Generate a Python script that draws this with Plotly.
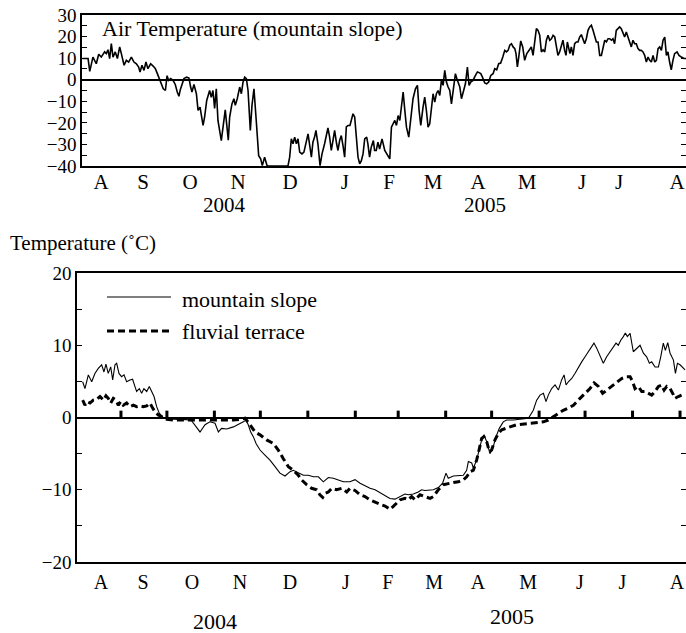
import plotly.graph_objects as go

# ---------------- data (day = days since 1 Aug 2004) ----------------
air_day = [2.6, 6.3, 7.4, 9.5, 11.7, 13.3, 15.0, 17.2, 18.3, 19.4, 20.5, 21.6, 22.7, 24.2, 25.6, 27.1, 28.2, 30.0,
           31.5, 33.0, 34.8, 36.5, 38.1, 39.6, 40.5, 41.8, 43.1, 44.4, 45.7, 47.5, 49.3, 50.6, 51.9, 53.2, 54.5, 55.8,
           57.2, 58.3, 59.3, 60.7, 62.2, 63.7, 65.0, 66.1, 67.0, 68.1, 69.4, 71.2, 72.7, 73.8, 74.7, 76.0, 77.6, 78.7,
           80.0, 82.0, 83.0, 84.4, 86.3, 87.4, 88.5, 89.6, 90.7, 91.8, 94.0, 96.6, 98.6,
           99.5, 101.0, 102.3, 103.2, 104.5, 106.1, 107.2, 108.3, 109.4, 110.5, 111.6, 113.1, 114.2, 115.5, 117.0,
           118.6, 119.9, 121.0, 122.5, 124.1, 124.7, 137.9, 139.0, 140.1, 141.2, 142.3, 143.4, 144.5, 145.6, 147.1,
           148.4, 150.0, 151.1, 152.2, 153.3, 154.3, 155.4, 156.3, 157.6, 159.0, 160.3, 162.0, 163.3, 164.2, 165.3,
           166.4, 167.5, 168.6, 169.9, 170.8, 171.9, 173.0, 174.1, 175.2, 176.3, 177.4, 178.7, 179.6, 180.7, 181.8,
           182.9, 184.0, 185.1, 186.2, 187.3, 188.4, 189.7, 190.5, 191.6, 192.7, 194.1, 194.9, 196.0, 197.1, 198.2,
           199.8, 201.6, 203.3, 204.9, 206.0, 207.1, 208.2, 209.3, 210.4, 211.5, 212.6, 213.7, 214.8, 215.9, 217.4,
           218.7, 220.2, 221.8, 223.1, 224.2, 225.3, 226.8, 227.9, 229.0, 230.1, 231.2, 232.3, 233.4, 234.5, 235.6,
           236.7, 237.8, 238.9, 240.0, 241.1, 242.2, 243.3, 244.4, 245.5, 246.8, 248.1, 249.4, 251.0, 252.1, 253.4,
           254.7, 256.0, 257.1, 258.2, 259.7, 261.3, 262.6, 263.7, 264.8, 265.9, 267.4, 268.7, 270.0, 271.4, 272.9,
           274.0, 275.3, 276.6, 277.9, 279.3, 280.6, 281.7, 282.8, 283.9, 285.0, 286.1, 287.2, 288.0, 288.9, 289.8,
           291.1, 292.4, 293.7, 295.1, 296.4,
           298.1, 299.2, 300.3, 301.4, 302.5, 303.6, 304.7, 305.8, 306.9, 308.0, 309.1, 310.2, 311.3, 312.4, 313.5,
           314.5, 315.6, 316.7, 317.8, 318.9, 320.0, 320.9, 321.8, 322.7, 323.5, 324.4, 325.5, 326.6, 327.7, 328.8,
           329.9, 331.0, 332.1, 333.2, 334.3, 335.4, 336.5, 337.6, 338.7, 339.8, 340.9, 342.0, 343.1, 344.2, 345.3,
           346.4, 347.5, 348.6, 349.7, 350.8, 351.8, 352.9, 354.0, 355.1, 356.2, 357.3, 358.4, 359.5, 360.6, 361.7,
           362.8, 363.9, 365.0, 366.1, 367.2, 368.3, 369.4, 370.5, 371.6, 372.7, 373.8, 374.9, 376.0, 377.1, 378.2,
           379.3, 380.4, 381.5, 382.6, 383.7, 384.8, 385.9, 387.0, 388.0, 389.1, 390.2, 391.3, 392.4, 394.0, 395.3,
           396.8, 398.6, 399.9]
air_temp = [9.8, 9.8, 3.9, 10.5, 7.4, 11.8, 10.5, 12.9, 12.1, 13.9, 9.8, 16.7, 10.5, 12.9, 9.8, 15.2, 12.1, 6.7,
            9.0, 8.2, 10.5, 8.2, 7.4, 5.9, 3.6, 6.7, 4.3, 8.2, 5.1, 7.4, 6.2, 5.1, 2.8, 0.5, -2.6, -4.2,
            -5.0, 1.9, -0.3, 0.5, -0.3, -2.2, -5.7, -7.7, -4.6, -2.6, 0.5, 1.2, 0.8, -3.4, -5.7, -2.2, -6.5, -14.2,
            -12.7, -21.2, -17.3, -9.6, -5.0, -8.1, -5.0, -13.3, -4.2, -18.9, -28.2, -14.0, -28.0,
            -17.3, -11.2, -8.8, -11.9, -8.8, -3.4, -6.5, -1.1, 1.2, 0.5, -5.0, -23.5, -11.9, -4.2, -18.9,
            -35.2, -36.7, -39.8, -35.9, -39.8, -40.0, -40.0, -35.9, -27.4, -29.7, -26.6, -29.7, -27.4, -33.6, -34.4,
            -33.6, -29.0, -25.1, -30.5, -35.9, -29.0, -26.6, -23.5, -29.7, -39.8, -34.4, -29.7, -25.1, -22.3, -26.6,
            -32.8, -28.2, -23.5, -29.7, -32.8, -28.2, -25.9, -30.5, -35.9, -21.9, -21.2, -21.2, -18.9, -15.8, -17.3,
            -28.2, -35.9, -39.0, -37.5, -34.4, -27.4, -26.6, -29.7, -35.9, -31.3, -28.2, -32.8, -32.8, -29.0, -32.1,
            -27.4, -32.8, -35.2, -36.7, -22.0, -20.4, -18.9, -21.2, -16.6, -18.9, -12.7, -5.7, -14.2, -22.0, -26.6,
            -17.3, -8.8, -4.2, -2.6, -14.2, -21.2, -12.7, -8.1, -14.2, -22.0, -20.4, -12.7, -6.5, -10.4, -6.5,
            -5.0, -7.3, -0.3, -2.6, 4.3, -1.1, -3.4, -5.0, -11.2, -2.6, 2.8, -0.3, -3.4, -8.8, -5.0,
            -1.9, 5.9, -2.6, -1.1, -0.3, 2.0, 3.6, 3.3, 2.8, 1.2, -1.5, -1.9, -1.1, 2.0, 2.8,
            5.1, 4.6, 7.4, 7.7, 10.5, 13.6, 12.9, 13.6, 16.0, 16.7, 15.2, 14.4, 12.1, 5.9, 10.5,
            18.0, 15.2, 9.0, 12.1, 13.6,
            15.2, 11.3, 18.3, 23.7, 22.9, 20.6, 12.9, 13.9, 12.9, 18.3, 20.6, 18.3, 19.0, 20.6, 19.8,
            16.0, 11.3, 12.9, 15.2, 18.3, 13.6, 11.3, 17.5, 13.6, 12.1, 15.2, 11.3, 16.7, 17.5, 17.5,
            19.8, 20.9, 19.0, 16.7, 19.0, 22.9, 24.5, 25.3, 22.9, 19.8, 17.5, 17.5, 11.3, 11.3, 15.2,
            18.3, 17.5, 19.0, 19.0, 18.3, 19.0, 16.7, 22.9, 23.7, 24.5, 23.7, 21.4, 19.8, 22.1, 19.8,
            17.5, 15.2, 18.3, 16.7, 16.7, 14.4, 13.6, 13.6, 12.9, 11.3, 8.2, 10.5, 9.0, 8.2, 11.3,
            8.2, 9.0, 14.4, 15.2, 13.6, 18.3, 19.8, 11.3, 12.9, 8.2, 4.6, 9.0, 12.1, 12.9, 11.3,
            10.5, 9.8, 9.8]

slope_day = [6.0, 7.5, 9.7, 11.9, 14.0, 16.2, 18.4, 19.9, 21.2, 22.7, 24.3, 25.6, 27.1, 28.2, 29.7, 31.4, 33.0, 34.7,
             36.9, 38.6, 40.1, 41.2, 43.0, 44.5, 46.0, 47.8, 49.5, 51.0, 52.6, 54.3, 56.0, 58.6, 60.8, 65.2, 73.9,
             77.1, 82.6, 85.9, 89.1, 92.4, 94.6, 96.7, 100.0, 104.4, 107.6, 110.9, 112.6, 114.1, 115.7, 117.4, 119.2,
             121.8, 125.0, 128.3, 131.6, 134.8, 138.1, 141.4, 143.5, 146.8, 150.1, 153.3, 156.6, 159.9, 163.1, 166.4,
             169.7, 172.9, 176.2, 180.5, 183.8, 187.1, 190.3, 193.6, 196.9, 200.1, 203.4, 206.6, 209.9, 213.2, 216.4,
             218.6, 221.9, 225.1, 227.3, 229.5, 231.7, 234.9, 238.2, 241.0, 243.2, 244.7, 248.0, 251.3, 254.5, 256.7,
             257.8, 260.0, 261.1, 263.2, 265.0, 266.5, 268.0, 269.8, 271.9, 273.7, 275.9, 278.0, 280.6, 282.8, 287.2,
             292.6, 297.0, 300.2, 302.4, 304.6, 306.8, 308.5, 310.0, 312.2, 314.4, 316.6, 318.7, 320.3, 321.6, 323.1,
             325.3, 327.4, 329.6, 331.8, 334.0, 336.2, 338.3, 339.8, 341.6, 343.8, 345.9, 348.1, 350.3, 352.5, 354.2,
             355.7, 357.3, 359.0, 360.3, 361.6, 363.4, 365.5, 367.7, 369.9, 372.1, 374.2, 376.0, 377.5, 379.7, 381.9,
             383.4, 385.1, 386.4, 388.0, 389.5, 391.7, 393.0, 394.3, 396.0, 397.7, 399.3]
slope_temp = [4.95, 4.0, 5.9, 4.95, 6.1, 6.8, 7.3, 6.3, 7.4, 6.1, 7.0, 5.2, 7.3, 7.5, 6.1, 5.65, 5.9, 4.95,
              5.2, 5.3, 4.3, 3.6, 4.0, 3.35, 4.0, 3.6, 4.3, 3.6, 2.9, 1.5, 0.6, 0.0, -0.2, -0.25, -0.3,
              -0.45, -2.0, -1.0, -0.6, -0.8, -2.0, -1.5, -1.6, -1.3, -1.0, -0.6, -0.35, -1.0, -2.0, -2.65, -3.6,
              -4.5, -5.2, -5.9, -6.8, -7.7, -8.1, -7.5, -7.3, -7.6, -8.0, -8.0, -8.2, -8.2, -8.9, -8.3,
              -8.4, -8.65, -8.9, -8.9, -8.6, -9.1, -9.5, -9.8, -10.0, -10.4, -10.7, -11.2, -11.3, -10.95, -10.6,
              -10.7, -10.6, -10.3, -10.0, -10.1, -10.1, -10.0, -9.7, -9.1, -7.7, -8.4, -8.1, -8.0, -8.0, -7.3,
              -6.1, -6.3, -7.0, -5.9, -4.5, -3.1, -2.4, -3.35, -5.0, -4.3, -2.65, -1.5, -0.6, -0.35, -0.35,
              -0.25, -0.1, 1.0, 2.4, 3.1, 3.35, 2.2, 3.1, 4.0, 4.5, 3.8, 5.2, 5.9, 4.5, 4.95,
              5.4, 6.1, 7.0, 7.7, 8.4, 9.1, 9.8, 10.3, 9.6, 8.4, 7.5, 8.4, 9.1, 9.8, 10.3,
              10.0, 10.7, 11.2, 11.7, 11.2, 11.65, 9.1, 9.6, 10.0, 8.9, 8.4, 7.5, 7.7, 7.0, 7.0,
              8.4, 10.3, 9.3, 10.35, 8.9, 7.95, 6.1, 7.5, 7.3, 7.0, 6.6]

terrace_day = [6.0, 7.5, 9.0, 10.8, 12.9, 15.1, 17.3, 19.5, 21.2, 22.7, 24.3, 26.0, 27.7, 29.3, 30.8, 32.5, 34.7,
               36.9, 39.1, 41.2, 43.4, 45.6, 47.8, 49.9, 51.7, 53.2, 55.4, 57.6, 60.8, 65.2, 73.9, 82.6, 91.3,
               100.0, 104.4, 108.7, 112.0, 115.2, 118.5, 121.8, 126.1, 130.5, 133.7, 137.0, 140.3, 143.5, 146.8,
               149.0, 152.2, 155.5, 158.8, 160.9, 162.7, 164.2, 166.4, 168.6, 171.8, 175.1, 178.4, 180.5, 183.8,
               187.1, 190.3, 193.6, 196.9, 200.1, 203.4, 206.6, 208.8, 211.0, 213.2, 216.4, 218.6, 220.8, 223.0,
               226.2, 229.5, 232.8, 234.9, 238.2, 241.5, 244.7, 248.0, 251.3, 254.5, 256.7, 258.9, 261.1, 263.2,
               265.0, 266.5, 268.0, 269.8, 271.5, 273.0, 275.2, 277.4, 279.6, 281.7, 285.0, 289.4, 293.7, 298.1,
               302.4, 306.8, 310.0, 313.3, 316.6, 319.8, 323.1, 326.4, 330.7, 334.0, 337.2, 339.9, 342.7, 345.5,
               348.1, 351.4, 354.7, 357.9, 361.2, 363.4, 365.1, 366.6, 368.8, 371.0, 373.2, 375.3, 377.5, 379.7,
               381.9, 384.0, 385.6, 387.3, 389.5, 391.2, 392.7, 394.9, 397.1, 399.3]
terrace_temp = [2.4, 1.7, 2.2, 2.0, 2.4, 2.5, 2.9, 2.4, 3.0, 2.65, 2.0, 2.65, 2.4, 1.7, 2.2, 1.7, 2.0,
                1.5, 1.7, 1.5, 1.6, 1.5, 1.6, 2.0, 1.3, 0.8, 0.35, 0.1, -0.25, -0.35, -0.35, -0.35, -0.45,
                -0.45, -0.35, -0.25, -0.1, -1.0, -2.0, -2.4, -3.1, -3.6, -4.5, -5.7, -6.8, -7.3, -8.0,
                -8.65, -9.3, -9.8, -10.0, -10.7, -11.05, -10.5, -10.3, -9.8, -10.0, -9.8, -10.3, -9.8, -10.1,
                -10.7, -10.95, -11.4, -11.65, -12.0, -12.25, -12.7, -12.3, -11.9, -11.4, -11.2, -11.4, -10.95, -11.4,
                -10.7, -10.95, -11.2, -10.95, -10.0, -9.3, -9.1, -9.0, -8.9, -8.65, -8.2, -7.5, -7.3, -5.9,
                -4.3, -2.9, -2.65, -3.35, -4.7, -4.5, -3.1, -2.2, -1.7, -1.5, -1.3, -1.0, -0.9, -0.8,
                -0.7, -0.6, -0.35, 0.1, 0.6, 1.0, 1.3, 1.7, 2.65, 3.35, 4.0, 4.8, 4.3, 3.35,
                3.8, 4.3, 4.95, 5.4, 5.65, 5.65, 4.95, 4.0, 4.3, 3.6, 3.6, 3.35, 3.1, 3.6,
                4.3, 4.5, 3.8, 4.3, 4.0, 3.35, 2.65, 2.9, 3.1, 2.9]

# month starts (1 Sep 2004 ... 1 Sep 2005) marked on the zero line of the lower panel
month_start_day = [31, 61, 92, 122, 153, 184, 212, 243, 273, 304, 334, 365, 396]

month_labels = ["A", "S", "O", "N", "D", "J", "F", "M", "A", "M", "J", "J", "A"]
top_label_day = [14.8, 42.5, 73.4, 105.0, 139.2, 175.4, 204.4, 233.4, 263.0, 295.3, 331.5, 355.8, 394.0]
bottom_label_day = [17.9, 45.4, 77.4, 108.7, 141.3, 177.9, 205.3, 235.4, 264.1, 296.8, 330.7, 358.3, 394.0]
year_labels = ["2004", "2005"]
top_year_day = [95.8, 267.6]
bottom_year_day = [92.4, 286.3]

day_range = [2.3, 399.9]

FONT = "Liberation Serif, Times New Roman, DejaVu Serif, serif"
W, H = 686, 633

fig = go.Figure()

fig.add_trace(go.Scatter(x=air_day, y=air_temp, mode="lines", xaxis="x", yaxis="y",
                         line=dict(color="black", width=1.6), showlegend=False))
fig.add_trace(go.Scatter(x=slope_day, y=slope_temp, mode="lines", xaxis="x2", yaxis="y2",
                         line=dict(color="black", width=1.1), showlegend=False))
fig.add_trace(go.Scatter(x=terrace_day, y=terrace_temp, mode="lines", xaxis="x2", yaxis="y2",
                         line=dict(color="black", width=3, dash="7px,4px"), showlegend=False))

tx, ty = [], []
for d in month_start_day:
    tx += [d, d, None]
    ty += [0, 0.95, None]
fig.add_trace(go.Scatter(x=tx, y=ty, mode="lines", xaxis="x2", yaxis="y2",
                         line=dict(color="black", width=3), showlegend=False, hoverinfo="skip"))

axis_common = dict(showline=True, linecolor="black", linewidth=1.5, showgrid=False, automargin=False,
                   tickfont=dict(family=FONT, size=19, color="black"))

fig.update_layout(
    template="none",
    width=W, height=H, margin=dict(l=0, r=0, t=0, b=0, autoexpand=False),
    paper_bgcolor="white", plot_bgcolor="white",
    font=dict(family=FONT, color="black"),
    xaxis=dict(domain=[82 / W, 1], range=day_range, anchor="y", mirror=True, ticks="",
               tickvals=top_label_day, ticktext=month_labels, zeroline=False, ticklabelstandoff=-4,
               **{**axis_common, "tickfont": dict(family=FONT, size=21, color="black")}),
    yaxis=dict(domain=[1 - 166 / H, 1 - 15 / H], range=[-40, 30], anchor="x", tick0=0, dtick=10,
               ticks="inside", ticklen=5, tickwidth=1, tickcolor="black", mirror="ticks",
               minor=dict(dtick=5, ticks="inside", ticklen=5, tickwidth=1, tickcolor="black"),
               zeroline=True, zerolinecolor="black", zerolinewidth=1.5, **axis_common),
    xaxis2=dict(domain=[77 / W, 1], range=day_range, anchor="y2", mirror=True, ticks="",
                tickvals=bottom_label_day, ticktext=month_labels, zeroline=False, ticklabelstandoff=1,
                **{**axis_common, "tickfont": dict(family=FONT, size=20, color="black")}),
    yaxis2=dict(domain=[1 - 562 / H, 1 - 273 / H], range=[-20, 20], anchor="x2", tick0=0, dtick=10,
                ticks="inside", ticklen=5, tickwidth=1, tickcolor="black", mirror="ticks",
                minor=dict(dtick=5, ticks="inside", ticklen=5, tickwidth=1, tickcolor="black"),
                zeroline=True, zerolinecolor="black", zerolinewidth=1.5, **axis_common),
)

ann = []
ann.append(dict(text="Air Temperature (mountain slope)", xref="paper", yref="paper", x=100 / W, y=1 - 29 / H,
                xanchor="left", yanchor="middle", showarrow=False, font=dict(family=FONT, size=22, color="black")))
ann.append(dict(text="Temperature (˚C)", xref="paper", yref="paper", x=8 / W, y=1 - 243 / H,
                xanchor="left", yanchor="middle", showarrow=False, font=dict(family=FONT, size=21, color="black")))
for lbl, d in zip(year_labels, top_year_day):
    ann.append(dict(text=lbl, xref="x", yref="paper", x=d, y=1 - 205 / H, xanchor="center", yanchor="middle",
                    showarrow=False, font=dict(family=FONT, size=21, color="black")))
for lbl, d, yy in zip(year_labels, bottom_year_day, [621, 616]):
    ann.append(dict(text=lbl, xref="x2", yref="paper", x=d, y=1 - yy / H, xanchor="center", yanchor="middle",
                    showarrow=False, font=dict(family=FONT, size=22, color="black")))
# legend
ann.append(dict(text="mountain slope", xref="paper", yref="paper", x=180 / W, y=1 - 299 / H,
                xanchor="left", yanchor="middle", showarrow=False, font=dict(family=FONT, size=22, color="black")))
ann.append(dict(text="fluvial terrace", xref="paper", yref="paper", x=180 / W, y=1 - 331 / H,
                xanchor="left", yanchor="middle", showarrow=False, font=dict(family=FONT, size=22, color="black")))
fig.update_layout(annotations=ann)

fig.add_shape(type="line", xref="paper", yref="paper", x0=107 / W, x1=171 / W, y0=1 - 297 / H, y1=1 - 297 / H,
              line=dict(color="black", width=1.2))
fig.add_shape(type="line", xref="paper", yref="paper", x0=107 / W, x1=171 / W, y0=1 - 331 / H, y1=1 - 331 / H,
              line=dict(color="black", width=3, dash="7px,4px"))

fig.write_html("out.html")
